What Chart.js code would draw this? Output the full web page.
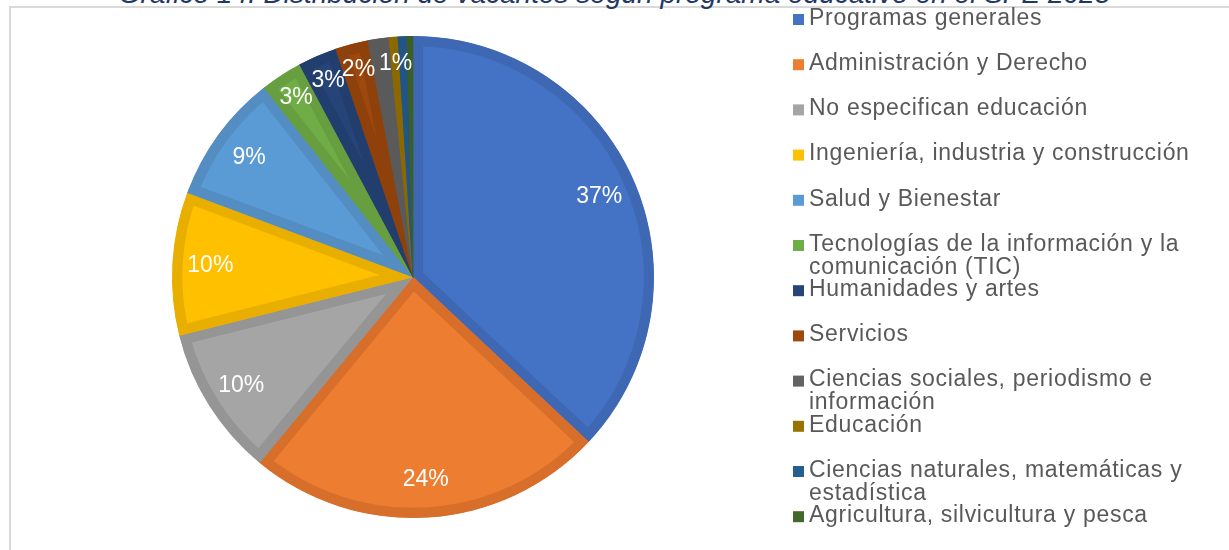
<!DOCTYPE html>
<html>
<head>
<meta charset="utf-8">
<script src="https://cdn.jsdelivr.net/npm/chart.js@4"></script>
<style>
  body { margin: 0; background: #fff; overflow: hidden; }
  #wrap { position: relative; width: 1229px; height: 550px; overflow: hidden; }
  #frame { position: absolute; left: 9px; top: 6px; width: 1400px; height: 700px; border: 2px solid #d9d9d9; }
  #title { position: absolute; left: 0; width: 1229px; top: -20px; text-align: center;
    font: italic 28px "Liberation Sans", Arial, sans-serif; line-height: 28px; color: #1f3864; white-space: nowrap; }
  canvas { position: absolute; left: 0; top: 0; }
</style>
</head>
<body>
<div id="wrap">
  <div id="frame"></div>
  <div id="title">Gráfico 14. Distribución de vacantes según programa educativo en el SPE 2025</div>
  <canvas id="chart" width="1229" height="550"></canvas>
</div>
<script>
const categories = [
  "Programas generales",
  "Administración y Derecho",
  "No especifican educación",
  "Ingeniería, industria y construcción",
  "Salud y Bienestar",
  "Tecnologías de la información y la comunicación (TIC)",
  "Humanidades y artes",
  "Servicios",
  "Ciencias sociales, periodismo e información",
  "Educación",
  "Ciencias naturales, matemáticas y estadística",
  "Agricultura, silvicultura y pesca"
];
const shares = [37.0, 24.0, 10.1, 9.6, 8.7, 2.8, 2.6, 2.2, 1.4, 0.6, 0.6, 0.4];
// labels as printed on the slices (some small ones are not shown)
const sliceText = ["37%", "24%", "10%", "10%", "9%", "3%", "3%", "2%", "", "1%", "", ""];

const fills = ["#4472c4", "#ed7d31", "#a5a5a5", "#ffc000", "#5b9bd5", "#70ad47",
               "#264478", "#9e480e", "#636363", "#997300", "#255e91", "#43682b"];
const edges = ["#3e68b4", "#d76f2b", "#959595", "#e8ae00", "#538dc1", "#669e40",
               "#223e6e", "#8f410c", "#5a5a5a", "#8b6900", "#215584", "#3c5e27"];

const FONT = '"Liberation Sans", Arial, sans-serif';

// percentage labels on the slices
const sliceLabels = {
  id: "sliceLabels",
  afterDatasetsDraw(chart) {
    const ctx = chart.ctx;
    const arcs = chart.getDatasetMeta(0).data;
    ctx.save();
    ctx.fillStyle = "#fff";
    ctx.font = "23px " + FONT;
    ctx.textAlign = "center";
    ctx.textBaseline = "middle";
    arcs.forEach((arc, i) => {
      if (!sliceText[i]) return;
      const p = arc.getProps(["x", "y", "startAngle", "endAngle", "outerRadius"], true);
      const mid = (p.startAngle + p.endAngle) / 2;
      const r = p.outerRadius - (shares[i] >= 5 ? 38 : 27);
      ctx.fillText(sliceText[i], p.x + Math.cos(mid) * r, p.y + Math.sin(mid) * r);
    });
    ctx.restore();
  }
};

// legend on the right, wrapped like the original
function wrap(ctx, text, maxW) {
  const words = text.split(" ");
  const lines = [];
  let cur = "";
  words.forEach(w => {
    const t = cur ? cur + " " + w : w;
    if (ctx.measureText(t).width > maxW && cur) {
      lines.push(cur);
      cur = w;
    } else {
      cur = t;
    }
  });
  lines.push(cur);
  return lines;
}

const sideLegend = {
  id: "sideLegend",
  afterDraw(chart) {
    const ctx = chart.ctx;
    ctx.save();
    ctx.font = "23px " + FONT;
    ctx.letterSpacing = "0.7px";
    ctx.textBaseline = "middle";
    categories.forEach((c, i) => {
      const y = 18.5 + i * 45.2;
      ctx.fillStyle = fills[i];
      ctx.fillRect(793, y - 4.5, 11, 11);
      ctx.fillStyle = "#595959";
      wrap(ctx, c, 415).forEach((ln, k) => ctx.fillText(ln, 809, y + k * 23));
    });
    ctx.restore();
  }
};

new Chart(document.getElementById("chart"), {
  type: "pie",
  data: {
    labels: categories,
    datasets: [{
      data: shares,
      backgroundColor: fills,
      borderColor: edges,
      borderWidth: 10,
      borderAlign: "inner",
      hoverOffset: 0
    }]
  },
  options: {
    responsive: false,
    animation: false,
    events: [],
    layout: { padding: { left: 172, right: 575, top: 36, bottom: 32 } },
    plugins: {
      legend: { display: false },
      tooltip: { enabled: false }
    }
  },
  plugins: [sliceLabels, sideLegend]
});
</script>
</body>
</html>
